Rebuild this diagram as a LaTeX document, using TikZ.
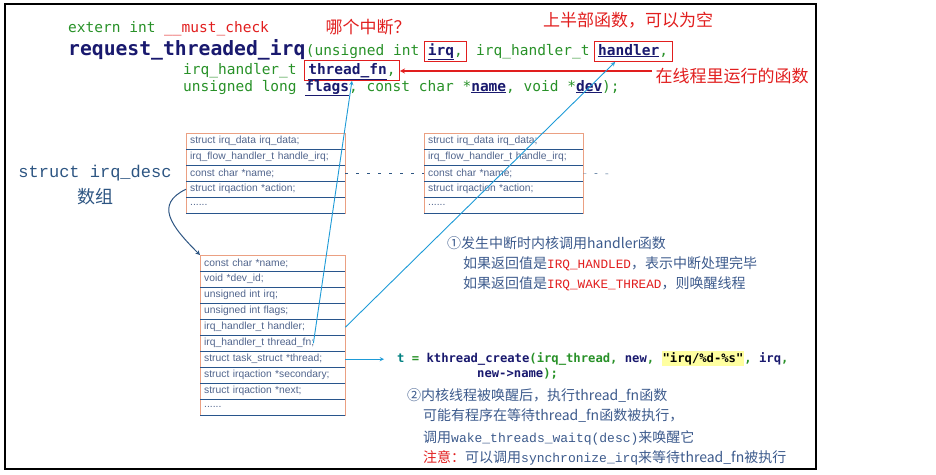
\documentclass[tikz,border=0pt]{standalone}
\usepackage{fontspec}
\setmainfont{Liberation Sans}
\newfontfamily\codefont{DejaVu Sans Mono}
\newfontfamily\monofont{Liberation Mono}
\newfontfamily\cjk{Noto Sans CJK SC}
\definecolor{codegreen}{RGB}{40,145,40}
\definecolor{navy}{RGB}{25,25,110}
\definecolor{boxred}{RGB}{225,30,30}
\definecolor{cyanline}{RGB}{30,155,215}
\definecolor{structtxt}{RGB}{80,100,140}
\definecolor{rowblue}{RGB}{40,85,140}
\definecolor{boxorange}{RGB}{235,160,130}
\definecolor{labelblue}{RGB}{45,85,130}
\definecolor{noteblue}{RGB}{60,90,140}
\definecolor{hilite}{RGB}{255,255,160}
\newcommand{\kw}[1]{\textcolor{navy}{\textbf{\underline{#1}}}}
\newcommand{\irqc}[1]{{\monofont\fontsize{12.7}{14}\selectfont\textcolor{boxred}{#1}}}
\newcommand{\cfn}[1]{{\monofont\fontsize{13}{14}\selectfont #1}}
\newcommand{\moredots}{......}

\begin{document}
\begin{tikzpicture}[x=1pt, y=-1pt,
    code/.style={inner sep=0pt, anchor=base west, text=codegreen, font=\codefont\fontsize{14.5}{16}\selectfont},
    redbox/.style={draw=boxred, thick, text height=11pt, text depth=4pt, inner xsep=4pt, inner ysep=2.5pt},
    note/.style={text=boxred, font=\cjk\fontsize{17}{20}\selectfont},
    txt/.style={anchor=base west, inner sep=0pt, text=noteblue, font=\cjk\fontsize{14}{16}\selectfont},
    row/.style={anchor=north west, inner xsep=4pt, inner ysep=0pt, minimum height=16pt, align=left, text=structtxt, font=\fontsize{10.3}{11}\selectfont},
    rowline/.style={rowblue, line width=1.8pt},
    bluearrow/.style={->, >=stealth, cyanline, line width=0.9pt}]
  \useasboundingbox (0,0) rectangle (936,474);
  \draw[line width=1.3pt] (5,4) rectangle (816,469);

  % Prototype
  \node[code] (ext) at (68,32) {extern int \textcolor{boxred}{\_\_must\_check}};
  \node[code, text=navy, font=\codefont\bfseries\fontsize{19.7}{22}\selectfont] (req) at (68,55) {request\_threaded\_irq};
  \node[code] (argA) at (req.base east) {(unsigned int};
  \node[code, redbox] (irq) at ([xshift=4pt]argA.base east) {\kw{irq},};
  \node[code] (argB) at (irq.base east) {\ irq\_handler\_t};
  \node[code, redbox] (hdl) at ([xshift=4pt]argB.base east) {\kw{handler},};
  \node[code] (l3) at (183,74) {irq\_handler\_t};
  \node[code, redbox] (tfn) at ([xshift=7pt]l3.base east) {\kw{thread\_fn},};
  \node[code] (l4) at (183,91) {unsigned long \kw{flags}, const char *\kw{name}, void *\kw{dev});};

  % Red notes
  \node[note] (q1) at (368,27) {哪个中断？};
  \node[note] (q2) at (628,20) {上半部函数，可以为空};
  \node[note, anchor=west] (q3) at (652,76) {在线程里运行的函数};
  \draw[->, >=stealth, boxred, line width=1.2pt] ([yshift=5pt]q3.west) -- ([yshift=5pt]q3.west -| tfn.east);

  % irq_desc array
  \node[labelblue, font=\monofont\fontsize{17}{20}\selectfont] (desc) at (95,173) {struct irq\_desc};
  \node[labelblue, font=\cjk\fontsize{18}{20}\selectfont] (arr) at (95,197) {数组};
  \foreach \t [count=\i] in {{struct irq\_data irq\_data;}, {irq\_flow\_handler\_t handle\_irq;}, {const char *name;}, {struct irqaction *action;}, {\moredots}} {
    \node[row, text width=151pt] (u\i) at (186,{133+16*(\i-1)}) {\t};
    \node[row, text width=151pt] (v\i) at (424,{133+16*(\i-1)}) {\t};
  }
  \draw[boxorange] (u1.north west) rectangle (u5.south east);
  \draw[boxorange] (v1.north west) rectangle (v5.south east);
  \foreach \i in {1,...,5} {
    \draw[rowline] (u\i.south west) -- (u\i.south east);
    \draw[rowline] (v\i.south west) -- (v\i.south east);
  }
  \coordinate (dotend) at (610,174);
  \draw[labelblue, dash pattern=on 3pt off 8pt] (u3.east) -- (v3.west);
  \draw[labelblue, dash pattern=on 3pt off 8pt] (v3.east) -- (dotend);

  % irqaction
  \foreach \t [count=\i] in {{const char *name;}, {void *dev\_id;}, {unsigned int irq;}, {unsigned int flags;}, {irq\_handler\_t handler;}, {irq\_handler\_t thread\_fn;}, {struct task\_struct *thread;}, {struct irqaction *secondary;}, {struct irqaction *next;}, {\moredots}}
    \node[row, text width=137pt] (d\i) at (200,{255+16*(\i-1)}) {\t};
  \draw[boxorange] (d1.north west) rectangle (d10.south east);
  \foreach \i in {1,...,10}
    \draw[rowline] (d\i.south west) -- (d\i.south east);
  \draw[->, >=stealth, labelblue, line width=1pt] (u4.west) .. controls +(-31,15) and +(-30,-30) .. (d1.north west);

  % Links
  \draw[bluearrow] ([xshift=-32pt]d6.east) -- (tfn.south);
  \draw[bluearrow] (d5.east) -- ([xshift=-18pt]hdl.south);
  \node[code, text=codegreen, font=\codefont\bfseries\fontsize{12.2}{14}\selectfont] (kt) at (397,362) {\textcolor{teal}{t} = \textcolor{navy}{kthread\_create}(irq\_thread, \textcolor{navy}{new}, {\fboxsep=1pt\colorbox{hilite}{\textcolor{black}{"irq/\%d-\%s"}}}, \textcolor{navy}{irq},};
  \node[code, text=navy, font=\codefont\bfseries\fontsize{12.2}{14}\selectfont] (kt2) at (477,377) {new->name\textcolor{codegreen}{);}};
  \draw[bluearrow, shorten >=13pt] (d7.east) -- (d7.east -| kt.west);

  % Steps
  \node[txt] (h1) at (447,248) {①发生中断时内核调用handler函数};
  \node[txt] (h2) at (463,268) {如果返回值是\irqc{IRQ\_HANDLED}，表示中断处理完毕};
  \node[txt] (h3) at (463,288) {如果返回值是\irqc{IRQ\_WAKE\_THREAD}，则唤醒线程};
  \node[txt] (s1) at (407,400) {②内核线程被唤醒后，执行thread\_fn函数};
  \node[txt] (s2) at (423,420) {可能有程序在等待thread\_fn函数被执行，};
  \node[txt] (s3) at (423,442) {调用\cfn{wake\_threads\_waitq(desc)}来唤醒它};
  \node[txt] (s4) at (423,462) {\textcolor{boxred}{注意：}可以调用\cfn{synchronize\_irq}来等待thread\_fn被执行};
\end{tikzpicture}
\end{document}
